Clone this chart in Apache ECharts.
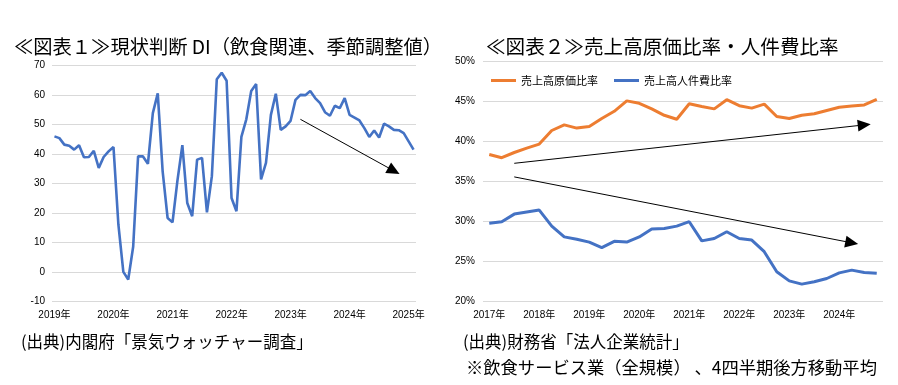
<!DOCTYPE html>
<html><head><meta charset="utf-8">
<script src="https://cdn.jsdelivr.net/npm/echarts@6/dist/echarts.min.js"></script>
<style>html,body{margin:0;padding:0;background:#fff}#c{width:898px;height:385px}</style>
</head><body><div id="c"></div>
<script>
// ---- Chart 1: 現状判断DI (飲食関連, 季節調整値), monthly Jan 2019 - Feb 2025
var diMonths = [];
(function(){ for (var y = 2019; y <= 2025; y++) for (var m = 1; m <= 12; m++) { if (y === 2025 && m > 2) break; diMonths.push(y + '-' + (m < 10 ? '0' + m : m)); } })();
var diValues = [
  46, 45.4, 43.2, 42.8, 41.5, 43, 38.9, 39, 41.1, 35.3, 39, 40.9,
  42.4, 16, 0, -2.6, 8.5, 39.2, 39.2, 36.7, 53.9, 60.6, 34, 18.3,
  16.8, 31, 43, 23.4, 18.9, 38.1, 38.7, 20.2, 32.5, 65.4, 67.6, 64.9,
  25.1, 20.6, 45.8, 51.8, 61.4, 63.8, 31.4, 37, 53.3, 60.5, 48.2, 49.4,
  51.3, 58.4, 60.1, 60, 61.4, 59, 57.3, 54.2, 53, 56.4, 55.6, 59,
  53.3, 52.4, 51.4, 48.8, 45.8, 48, 45.6, 50.3, 49.4, 48.2, 48.1, 47.1,
  44.3, 41.5
];
var diTicks = [-10, 0, 10, 20, 30, 40, 50, 60, 70];

// ---- Chart 2: 売上高原価比率・人件費比率 (%), quarterly 2017Q1 - 2024Q4
var quarters = [];
(function(){ for (var y = 2017; y <= 2024; y++) for (var q = 1; q <= 4; q++) quarters.push(y + 'Q' + q); })();
var costRatio = [
  38.4, 38.0, 38.65, 39.2, 39.7, 41.4, 42.1, 41.7, 41.9, 42.9, 43.8, 45.1,
  44.8, 44.1, 43.3, 42.8, 44.75, 44.4, 44.1, 45.25, 44.5, 44.2, 44.7, 43.15,
  42.9, 43.3, 43.5, 43.9, 44.3, 44.45, 44.6, 45.3
];
var laborRatio = [
  29.8, 30.0, 30.95, 31.2, 31.45, 29.45, 28.1, 27.8, 27.45, 26.75, 27.55, 27.45,
  28.1, 29.1, 29.15, 29.45, 30.0, 27.6, 27.9, 28.75, 27.9, 27.7, 26.25, 23.75,
  22.6, 22.2, 22.5, 22.9, 23.6, 23.95, 23.65, 23.55
];
var pctTicks = [20, 25, 30, 35, 40, 45, 50];
var seriesNames = ['売上高原価比率', '売上高人件費比率'];

var CJK = '"Noto Sans CJK JP", sans-serif';
var NUM = '"Liberation Sans", "Noto Sans CJK JP", sans-serif';
var gridColor = '#d9d9d9';

function arrowLine(a, b) {
  return {
    silent: true, animation: false,
    symbol: ['none', 'triangle'], symbolSize: [12, 13],
    label: { show: false },
    lineStyle: { color: '#000', width: 1, type: 'solid' },
    emphasis: { disabled: true },
    data: [[{ coord: a }, { coord: b }]]
  };
}

var chart = echarts.init(document.getElementById('c'));
chart.setOption({
  animation: false,
  backgroundColor: '#fff',
  title: [
    { text: '≪図表１≫現状判断 DI（飲食関連、季節調整値）', left: 9, top: 32,
      textStyle: { fontFamily: CJK, fontSize: 19.3, fontWeight: 'normal', color: '#000' } },
    { text: '≪図表２≫売上高原価比率・人件費比率', left: 481, top: 32,
      textStyle: { fontFamily: CJK, fontSize: 19.6, fontWeight: 'normal', color: '#000' } }
  ],
  legend: {
    data: seriesNames, left: 486, top: 70, itemWidth: 25, itemHeight: 14, itemGap: 16,
    icon: 'path://M0,6 L25,6 L25,9 L0,9 Z',
    textStyle: { fontFamily: CJK, fontSize: 11, color: '#000' }
  },
  grid: [
    { left: 52, right: 482, top: 65.7, bottom: 83.7 },
    { left: 483, right: 15, top: 61.7, bottom: 83.3 }
  ],
  xAxis: [
    { type: 'category', gridIndex: 0, data: diMonths, boundaryGap: true,
      axisLine: { show: false }, axisTick: { show: false },
      axisLabel: { interval: 11, margin: 9, color: '#000', fontFamily: NUM, fontSize: 10,
        formatter: function (v) { return v.slice(0, 4) + '年'; } } },
    { type: 'category', gridIndex: 1, data: quarters, boundaryGap: true,
      axisLine: { show: false }, axisTick: { show: false },
      axisLabel: { interval: 3, margin: 9, color: '#000', fontFamily: NUM, fontSize: 10,
        formatter: function (v) { return v.slice(0, 4) + '年'; } } }
  ],
  yAxis: [
    { type: 'value', gridIndex: 0, min: diTicks[0], max: diTicks[diTicks.length - 1], interval: 10,
      axisLine: { show: false }, axisTick: { show: false },
      axisLabel: { margin: 7, color: '#000', fontFamily: NUM, fontSize: 10 },
      splitLine: { lineStyle: { color: gridColor, width: 1 } } },
    { type: 'value', gridIndex: 1, min: pctTicks[0], max: pctTicks[pctTicks.length - 1], interval: 5,
      axisLine: { show: false }, axisTick: { show: false },
      axisLabel: { margin: 8, color: '#000', fontFamily: NUM, fontSize: 10, formatter: '{value}%' },
      splitLine: { lineStyle: { color: gridColor, width: 1 } } }
  ],
  series: [
    { name: '現状判断DI', type: 'line', xAxisIndex: 0, yAxisIndex: 0, data: diValues,
      symbol: 'none', lineStyle: { color: '#4472C4', width: 2.6 }, itemStyle: { color: '#4472C4' },
      markLine: arrowLine([50, 51.8], [69, 34.3]) },
    { name: seriesNames[0], type: 'line', xAxisIndex: 1, yAxisIndex: 1, data: costRatio,
      symbol: 'none', lineStyle: { color: '#ED7D31', width: 3 }, itemStyle: { color: '#ED7D31' },
      markLine: arrowLine([2, 37.3], [30, 42.1]) },
    { name: seriesNames[1], type: 'line', xAxisIndex: 1, yAxisIndex: 1, data: laborRatio,
      symbol: 'none', lineStyle: { color: '#4472C4', width: 3 }, itemStyle: { color: '#4472C4' },
      markLine: arrowLine([2, 35.6], [29, 27.36]) }
  ],
  graphic: [
    { type: 'text', left: 21, top: 333, style: { text: '(出典)内閣府「景気ウォッチャー調査」', font: '16.5px ' + CJK, fill: '#000' } },
    { type: 'text', left: 463, top: 333, style: { text: '(出典)財務省「法人企業統計」', font: '16.5px ' + CJK, fill: '#000' } },
    { type: 'text', left: 466, top: 359, style: { text: '※飲食サービス業（全規模） 、4四半期後方移動平均', font: '17.3px ' + CJK, fill: '#000' } }
  ]
});
</script></body></html>
